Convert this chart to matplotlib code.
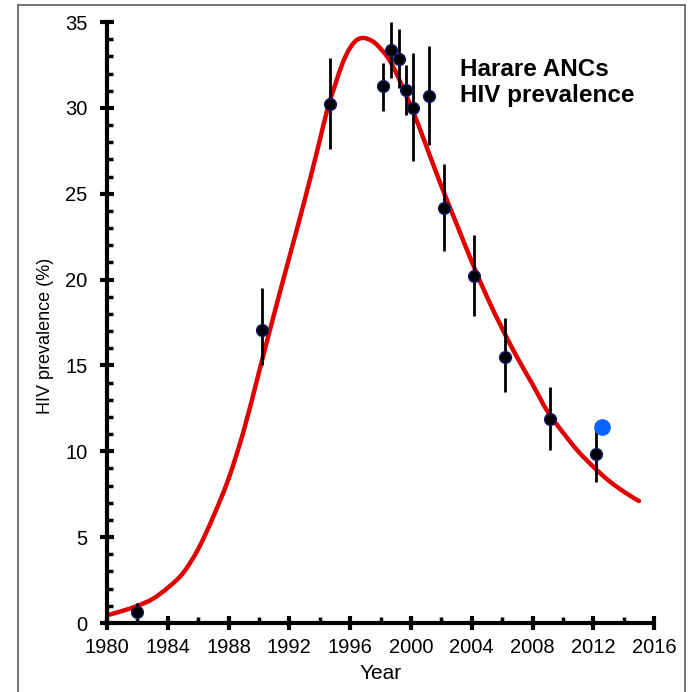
import matplotlib
matplotlib.use("Agg")
import matplotlib.pyplot as plt
from matplotlib.lines import Line2D
from matplotlib.path import Path
from matplotlib.patches import PathPatch
from matplotlib.ticker import MultipleLocator

plt.rcParams['font.family'] = ['Liberation Sans', 'DejaVu Sans']

# Antenatal clinic survey estimates (year, prevalence %, 95% CI)
survey_year = [1981.97, 1990.21, 1994.66, 1998.17, 1998.67, 1999.2, 1999.68,
               2000.16, 2001.17, 2002.16, 2004.13, 2006.17, 2009.13, 2012.15]
survey_prev = [0.64, 17.07, 30.2, 31.25, 33.39, 32.85, 31.06,
               29.97, 30.69, 24.17, 20.18, 15.52, 11.87, 9.83]
survey_lo = [0.1, 15.0, 27.6, 29.8, 31.74, 31.16, 29.6,
             26.9, 27.86, 21.64, 17.9, 13.48, 10.08, 8.2]
survey_hi = [1.15, 19.5, 32.9, 32.6, 35.0, 34.6, 32.5,
             33.2, 33.58, 26.75, 22.6, 17.76, 13.73, 11.64]

# Most recent separate estimate
extra_year = [2012.6]
extra_prev = [11.4]

# Fitted prevalence trajectory
fit_year = [1980.0, 1981.0, 1982.0, 1983.0, 1984.0, 1985.0, 1986.0, 1987.0,
            1988.0, 1989.0, 1990.0, 1991.0, 1992.0, 1993.0, 1994.0, 1994.5,
            1995.0, 1995.5, 1996.0, 1996.4, 1996.8, 1997.2, 1997.6, 1998.0,
            1998.5, 1999.0, 1999.5, 2000.0, 2001.0, 2002.0, 2003.0, 2004.0,
            2005.0, 2006.0, 2007.0, 2008.0, 2009.0, 2010.0, 2011.0, 2012.0,
            2013.0, 2014.0, 2015.0]
fit_prev = [0.45, 0.70, 1.0, 1.4, 2.05, 2.9, 4.3, 6.2,
            8.4, 11.2, 14.6, 18.0, 21.3, 24.6, 28.1, 29.9,
            31.3, 32.6, 33.5, 33.93, 34.07, 34.0, 33.8, 33.45,
            32.9, 32.1, 31.1, 30.1, 27.8, 25.45, 23.25, 21.05,
            19.0, 17.15, 15.45, 13.9, 12.3, 11.1, 10.0, 9.1,
            8.3, 7.65, 7.1]

x_ticks = list(range(1980, 2017, 4))
y_ticks = list(range(0, 36, 5))


def smooth_path(xs, ys):
    """Piecewise cubic Hermite curve through the points, as Bezier segments."""
    n = len(xs)
    slopes = []
    for i in range(n):
        if i == 0:
            m = (ys[1] - ys[0]) / (xs[1] - xs[0])
        elif i == n - 1:
            m = (ys[-1] - ys[-2]) / (xs[-1] - xs[-2])
        else:
            h0, h1 = xs[i] - xs[i - 1], xs[i + 1] - xs[i]
            d0 = (ys[i] - ys[i - 1]) / h0
            d1 = (ys[i + 1] - ys[i]) / h1
            m = (d0 * h1 + d1 * h0) / (h0 + h1)
        slopes.append(m)
    verts = [(xs[0], ys[0])]
    codes = [Path.MOVETO]
    for i in range(n - 1):
        h = xs[i + 1] - xs[i]
        verts += [(xs[i] + h / 3, ys[i] + slopes[i] * h / 3),
                  (xs[i + 1] - h / 3, ys[i + 1] - slopes[i + 1] * h / 3),
                  (xs[i + 1], ys[i + 1])]
        codes += [Path.CURVE4] * 3
    return Path(verts, codes)


fig = plt.figure(figsize=(6.90, 6.92), dpi=100)
ax = fig.add_axes([0.155, 0.0997, 0.793, 0.8685])

ax.add_patch(PathPatch(smooth_path(fit_year, fit_prev), fill=False,
                       edgecolor='#e00000', lw=3.2, capstyle='round',
                       zorder=2))

err_lo = [p - l for p, l in zip(survey_prev, survey_lo)]
err_hi = [h - p for p, h in zip(survey_prev, survey_hi)]
ax.errorbar(survey_year, survey_prev, yerr=[err_lo, err_hi], fmt='none',
            ecolor='black', elinewidth=2.0, capsize=0, zorder=3)
ax.plot(survey_year, survey_prev, 'o', ms=8.5, mfc='black', mec='#141a6e',
        mew=1.0, zorder=4)
ax.plot(extra_year, extra_prev, 'o', ms=11, mfc='#0a64ff', mec='#0a64ff',
        zorder=5)

ax.set_xlim(1980, 2016)
ax.set_ylim(0, 35)
ax.set_xticks(x_ticks)
ax.set_yticks(y_ticks)
ax.xaxis.set_minor_locator(MultipleLocator(2))
ax.yaxis.set_minor_locator(MultipleLocator(1))

for side in ('top', 'right'):
    ax.spines[side].set_visible(False)
for side in ('left', 'bottom'):
    ax.spines[side].set_linewidth(3.0)
    ax.spines[side].set_capstyle('butt')

ax.tick_params(which='major', direction='inout', length=10, width=3.0,
               labelsize=14.5)
ax.tick_params(which='minor', direction='in', length=4, width=2.5)
ax.tick_params(axis='x', which='major', pad=6)
ax.tick_params(axis='y', which='major', pad=9)

ax.set_xlabel('Year', fontsize=15, labelpad=5)
ax.set_ylabel('HIV prevalence (%)', fontsize=13)
ax.yaxis.set_label_coords(-0.097, 0.478)

ax.text(0.645, 0.94, 'Harare ANCs\nHIV prevalence', transform=ax.transAxes,
        fontsize=17.5, fontweight='bold', va='top', ha='left',
        linespacing=1.15)

# Outer frame around the figure
fw, fh = 690.0, 692.0
fx0, fx1, fy1 = 18 / fw, 685 / fw, 1 - 5 / fh
frame_kw = dict(color='#6a6a6a', lw=1.3, transform=fig.transFigure)
fig.add_artist(Line2D([fx0, fx0], [-0.05, fy1], **frame_kw))
fig.add_artist(Line2D([fx0, fx1], [fy1, fy1], **frame_kw))
fig.add_artist(Line2D([fx1, fx1], [fy1, -0.05], **frame_kw))

fig.savefig('out.png', dpi=100)
